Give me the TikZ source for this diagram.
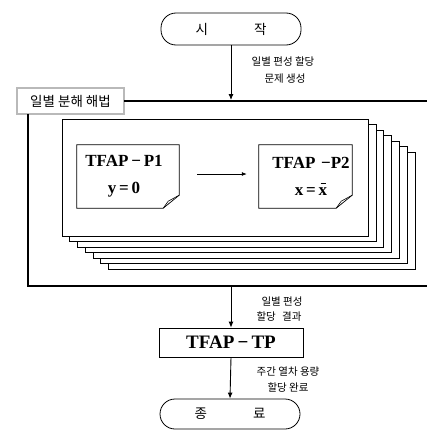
\documentclass[tikz,border=0pt]{standalone}
\usepackage{fontspec}
\setmainfont{Liberation Serif}
\newfontfamily\kr{Noto Sans CJK KR}
\usetikzlibrary{arrows.meta,calc}
\begin{document}
\begin{tikzpicture}[x=1pt,y=-1pt,
  term/.style={draw,line width=0.8pt,rounded corners=15pt,minimum width=140pt,minimum height=32pt,inner sep=0pt,font=\kr\fontsize{13.5}{13.5}\selectfont},
  lbl/.style={font=\kr\fontsize{10.5}{12}\selectfont,inner sep=0pt,align=center},
  busline/.style={line width=2.8pt},
  arr/.style={line width=0.9pt,-{Latex[length=6pt,width=5pt]}},
  stackrect/.style={draw,fill=white,line width=0.6pt},
  notebox/.style={minimum width=102pt,minimum height=63pt,inner sep=0pt},
  noteline/.style={line width=0.7pt,fill=white},
  notetext/.style={font=\bfseries\fontsize{17}{27}\selectfont,align=center,inner sep=0pt},
  decompbox/.style={draw=black,double=gray!55,double distance=1.6pt,line width=0.6pt,fill=white,minimum width=107pt,minimum height=26pt,inner sep=0pt,font=\kr\fontsize{13.5}{14}\selectfont},
  tpbox/.style={draw,line width=0.7pt,minimum width=144pt,minimum height=29pt,inner sep=0pt,font=\bfseries\fontsize{19}{19}\selectfont}
]
\useasboundingbox (0,0) rectangle (427,431);

% start terminal
\node[term] (start) at (231,29) {시\hspace{46pt}작};
\node[lbl] (lab1) at (283,62) {일별 편성 할당};
\node[lbl] (lab2) at (285,79) {문제 생성};

% decomposition box and bus lines
\node[decompbox] (decomp) at (70.5,101) {일별 분해 해법};
\coordinate (topj) at (231,100);
\coordinate (topr) at (427,101);
\coordinate (lt) at (28,286);
\coordinate (botr) at (427,286);
\coordinate (botj) at (231,287);
\draw[busline] (decomp.east) -- (topr);
\draw[busline] (decomp.south -| lt) -- (lt) -- (botr);
\draw[arr] (start.south) -- (topj);

% stacked sheets
\foreach \i in {6,5,...,0}{
  \draw[stackrect] ({62+7.7*\i},{119+5.5*\i}) rectangle ({368+7.8*\i},{236+5.5*\i});
}

% note P1
\node[notebox] (p1) at (128,176.5) {};
\draw[noteline] (p1.north west) -- (p1.north east) -- ($(p1.south east)+(0,-13)$)
  -- ($(p1.south east)+(-16,0)$) -- (p1.south west) -- cycle;
\draw[line width=0.6pt] ($(p1.south east)+(-16,0)$) .. controls ($(p1.south east)+(-13,-3)$) .. ($(p1.south east)+(-11,-7)$) -- ($(p1.south east)+(0,-13)$);
\node[notetext] (p1t) at (124,176.5) {TFAP\,−\,P1\\y\,=\,0};

% note P2
\node[notebox,minimum width=93pt] (p2) at (305.5,176.5) {};
\draw[noteline] (p2.north west) -- (p2.north east) -- ($(p2.south east)+(0,-13)$)
  -- ($(p2.south east)+(-16,0)$) -- (p2.south west) -- cycle;
\draw[line width=0.6pt] ($(p2.south east)+(-16,0)$) .. controls ($(p2.south east)+(-13,-3)$) .. ($(p2.south east)+(-11,-7)$) -- ($(p2.south east)+(0,-13)$);
\node[notetext] (p2t) at (311,176.5) {TFAP\,\,−P2\\x\,=\,\rlap{\raisebox{1.45ex}{\kern0.12em\rule{0.3em}{0.06em}}}x};

\draw[line width=0.8pt,-{Latex[length=5pt,width=4pt]}] ([xshift=18pt,yshift=2.5pt]p1.east) -- ([xshift=-12pt,yshift=2.5pt]p2.west);

% bottom part
\node[lbl] (lab3) at (282,302) {일별 편성};
\node[lbl] (lab4) at (279,317) {할당\hspace{0.6em}결과};
\node[tpbox] (tp) at (231,342.5) {TFAP\,−\,TP};
\node[lbl] (lab5) at (288,372) {주간 열차 용량};
\node[lbl] (lab6) at (288,388) {할당 완료};
\node[term,minimum height=30pt] (end) at (230,414) {종\hspace{46pt}료};
\draw[arr] (botj) -- (tp.north);
\draw[arr] (tp.south) -- (end.north);
\end{tikzpicture}
\end{document}
